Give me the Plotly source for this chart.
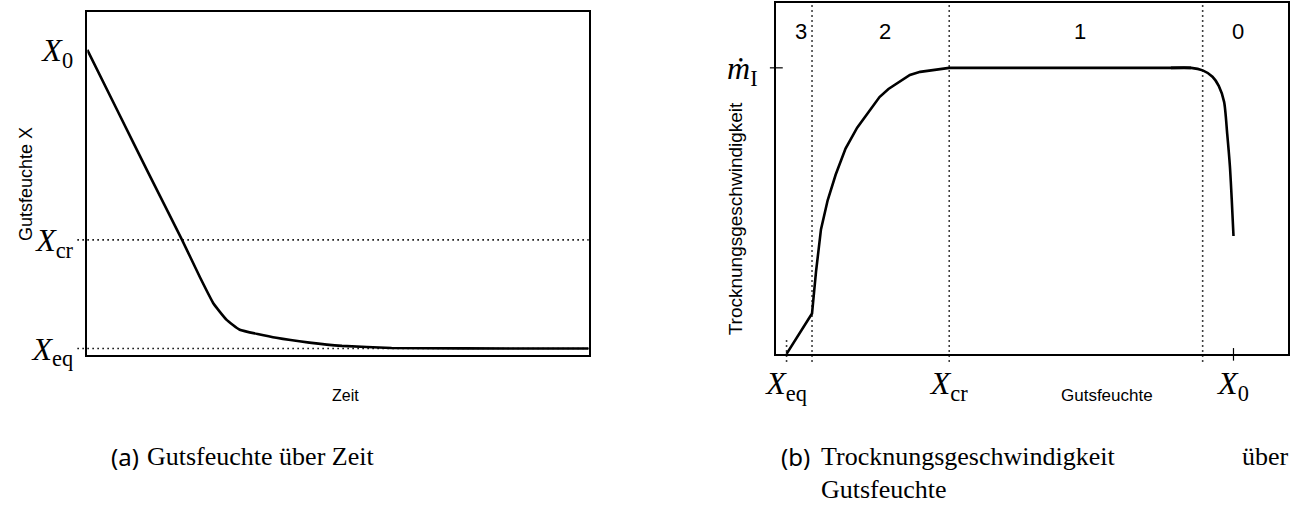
import plotly.graph_objects as go

# ---------------- data ----------------
# (a) moisture content over time (normalised: X_eq = 0, X_0 = 1)
zeit = [0, 6.0, 12.0, 18.9, 22.5, 25.2, 27.8, 30.4, 37.7, 44.3, 50.8, 60.7, 75, 100]
gutsfeuchte_x = [1.0, 0.797, 0.594, 0.364, 0.238, 0.150, 0.096, 0.063, 0.036,
                 0.020, 0.009, 0.002, 0.0005, 0.0]

# characteristic moisture values
X_EQ = 0.0
X_CR = 0.364
X_0 = 1.0
M_I = 1.0

# (b) drying rate over moisture content
feuchte_b = [0, 0.057, 0.066, 0.077, 0.092, 0.110, 0.132, 0.158, 0.208, 0.228,
             0.276, 0.299, X_CR, 0.905]
rate_b = [0, 0.141, 0.288, 0.435, 0.537, 0.627, 0.718, 0.791, 0.898, 0.926,
          0.975, 0.986, 1.0, 1.0]
# heating-up section (region 0)
feuchte_0 = [0.860, 0.905, 0.931, 0.953, 0.967, 0.979, 0.986, 0.992, 0.996, 1.0]
rate_0 = [1.0, 1.0, 0.991, 0.969, 0.937, 0.881, 0.768, 0.655, 0.542, 0.412]

# region boundaries
grenze_32 = 0.057
grenze_10 = 0.931
regions = ["3", "2", "1", "0"]
region_pos = [0.033, 0.22, 0.656, 1.009]

# ---------------- layout helpers ----------------
W, H = 1290, 525
def px(x):
    return x / W
def py(y):
    return 1 - y / H

SERIF = "Liberation Serif"
SANS = "Liberation Sans"

fig = go.Figure()

fig.add_trace(go.Scatter(x=zeit, y=gutsfeuchte_x, mode="lines",
                         line=dict(color="black", width=2.6, shape="spline", smoothing=0.35),
                         xaxis="x", yaxis="y", showlegend=False, hoverinfo="skip"))
fig.add_trace(go.Scatter(x=feuchte_b, y=rate_b, mode="lines",
                         line=dict(color="black", width=2.6),
                         xaxis="x2", yaxis="y2", showlegend=False, hoverinfo="skip"))
fig.add_trace(go.Scatter(x=feuchte_0, y=rate_0, mode="lines",
                         line=dict(color="black", width=2.6, shape="spline", smoothing=0.7),
                         xaxis="x2", yaxis="y2", showlegend=False, hoverinfo="skip"))

axis_common = dict(showgrid=False, zeroline=False, showline=True, mirror=True,
                   linecolor="black", linewidth=1.6)

TICKFONT = dict(family=SERIF, size=32, color="black")
fig.update_layout(
    width=W, height=H,
    margin=dict(l=0, r=0, t=0, b=0),
    paper_bgcolor="white", plot_bgcolor="white",
    xaxis=dict(domain=[px(76), px(582)], range=[0, 100], showticklabels=False,
               ticks="", **axis_common),
    yaxis=dict(domain=[py(366), py(12)], range=[-0.021, 1.128],
               tickvals=[X_EQ, X_CR, X_0],
               ticktext=["<i>X</i><sub>eq</sub>", "<i>X</i><sub>cr</sub>", "<i>X</i><sub>0</sub>"],
               tickfont=TICKFONT, ticks="", ticklabelstandoff=6, **axis_common),
    xaxis2=dict(domain=[px(771), px(1288)], range=[-0.024, 1.122],
                tickvals=[X_EQ, X_CR, X_0],
                ticktext=["<i>X</i><sub>eq</sub>", "<i>X</i><sub>cr</sub>", "<i>X</i><sub>0</sub>"],
                tickfont=TICKFONT, ticks="", ticklabelstandoff=0, anchor="y2", **axis_common),
    yaxis2=dict(domain=[py(365), py(3)], range=[0, 1.227],
                tickvals=[M_I],
                ticktext=["<i>ṁ</i><sub>I</sub>"],
                tickfont=TICKFONT, ticks="", ticklabelstandoff=10, anchor="x2", **axis_common),
)

shapes = []
dot = dict(color="black", width=1.6, dash="1.5px,3.5px")
# left: horizontal reference lines
for v in [X_CR, X_EQ]:
    shapes.append(dict(type="line", xref="paper", yref="y", x0=px(66), x1=px(582),
                       y0=v, y1=v, line=dot, layer="above"))
# right: vertical region boundaries
for v in [grenze_32, X_CR, grenze_10]:
    shapes.append(dict(type="line", xref="x2", yref="paper", x0=v, x1=v,
                       y0=py(373), y1=py(3), line=dot, layer="above"))
# right: X_eq dotted tick
shapes.append(dict(type="line", xref="x2", yref="paper", x0=X_EQ, x1=X_EQ,
                   y0=py(373), y1=py(350), line=dot, layer="above"))
# right: X_0 solid tick
shapes.append(dict(type="line", xref="x2", yref="paper", x0=X_0, x1=X_0,
                   y0=py(372), y1=py(359), line=dict(color="black", width=1.2)))
# right: m_I solid tick
shapes.append(dict(type="line", xref="paper", yref="y2", x0=px(765), x1=px(778),
                   y0=M_I, y1=M_I, line=dict(color="black", width=1.2)))
fig.update_layout(shapes=shapes)

def label(text, x, y, size, family=SANS, angle=0, xanchor="center", xref="paper"):
    return dict(text=text, x=x, y=y, xref=xref, yref="paper", textangle=angle,
                xanchor=xanchor, yanchor="middle", showarrow=False,
                font=dict(family=family, size=size, color="black"))

ann = []
ann.append(label("Gutsfeuchte X", px(14), py(190), 18, angle=-90))
ann.append(label("Zeit", px(337), py(408), 16))
ann.append(label("Trocknungsgeschwindigkeit", px(730), py(226), 19, angle=-90))
ann.append(label("Gutsfeuchte", px(1105), py(408), 17))
for r, xp in zip(regions, region_pos):
    ann.append(label(r, xp, py(32), 22, xref="x2"))

# captions
ann.append(label("(a)", px(98), py(471), 24, family="Noto Sans", xanchor="left"))
ann.append(label("Gutsfeuchte über Zeit", px(134), py(471), 26, family=SERIF, xanchor="left"))
ann.append(label("(b)", px(774), py(471), 24, family="Noto Sans", xanchor="left"))
ann.append(label("Trocknungsgeschwindigkeit", px(815), py(471), 26, family=SERIF, xanchor="left"))
ann.append(label("über", px(1291), py(471), 26, family=SERIF, xanchor="right"))
ann.append(label("Gutsfeuchte", px(815), py(505), 26, family=SERIF, xanchor="left"))
fig.update_layout(annotations=ann)

fig.write_html("out.html")
